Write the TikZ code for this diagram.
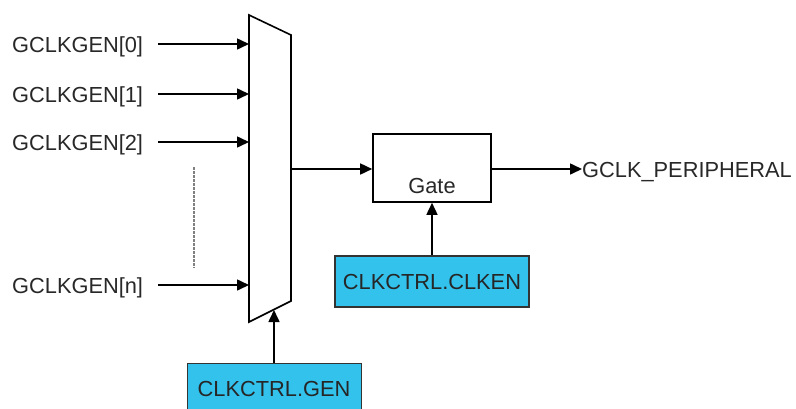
\documentclass[tikz,border=0pt]{standalone}
\usepackage{fontspec}
\setmainfont{Liberation Sans}
\usetikzlibrary{arrows.meta}
\definecolor{ctrlblue}{RGB}{50,194,236}
\definecolor{txt}{RGB}{40,40,40}
\begin{document}
\begin{tikzpicture}[x=1pt,y=-1pt,
  font=\fontsize{21.8}{24}\selectfont,
  wire/.style={line width=1.6pt,draw=black,-{Triangle[length=12pt,width=11pt]}},
  lbl/.style={anchor=base west,inner sep=0pt,text=txt},
  ctrl/.style={draw=black!80,line width=1.2pt,fill=ctrlblue,text=black!85,inner sep=0pt},
  gatebox/.style={draw=black,line width=1.6pt,fill=white,inner sep=0pt,minimum width=118pt,minimum height=68pt}]
\useasboundingbox (0,0) rectangle (796,408);
% mux
\draw[line width=1.6pt] (249,15) -- (291,35) -- (291,301) -- (249,322) -- cycle;
\coordinate (mi0) at (249,44);
\coordinate (mi1) at (249,94);
\coordinate (mi2) at (249,142);
\coordinate (min) at (249,285);
\coordinate (mo) at (291,169);
\coordinate (msel) at (274,310);
% input labels
\node[lbl] (g0) at (12,52) {GCLKGEN[0]};
\node[lbl] (g1) at (12,102) {GCLKGEN[1]};
\node[lbl] (g2) at (12,150) {GCLKGEN[2]};
\node[lbl] (gn) at (12,293) {GCLKGEN[n]};
\coordinate (s0) at (158,44);
\coordinate (s1) at (158,94);
\coordinate (s2) at (158,142);
\coordinate (sn) at (158,285);
\draw[wire] (s0) -- (mi0);
\draw[wire] (s1) -- (mi1);
\draw[wire] (s2) -- (mi2);
\draw[wire] (sn) -- (min);
% dotted
\coordinate (d1) at (194,167);
\coordinate (d2) at (194,268);
\draw[gray,line width=1.3pt,dash pattern=on 2.5pt off 1.5pt] (d1) -- (d2);
% gate
\node[gatebox] (gate) at (432,168) {};
\node[inner sep=0pt,anchor=base,text=txt] (gatetxt) at (432,193) {Gate};
\draw[wire] (mo) -- (gate.west |- mo);
% output
\node[lbl] (out) at (582,177) {GCLK\_PERIPHERAL};
\coordinate (oe) at (582,169);
\draw[wire] (gate.east |- oe) -- (oe);
% clken
\node[ctrl,minimum width=194pt,minimum height=51pt] (clken) at (432,281.5) {CLKCTRL.CLKEN};
\draw[wire] (clken.north) -- (gate.south);
% gen
\node[ctrl,minimum width=174pt,minimum height=60pt,anchor=north west] (gen) at (187,363) {};
\node[inner sep=0pt,anchor=base,text=black!85] (gentxt) at (274,396) {CLKCTRL.GEN};
\draw[wire] (gen.north -| msel) -- (msel);
\end{tikzpicture}
\end{document}
